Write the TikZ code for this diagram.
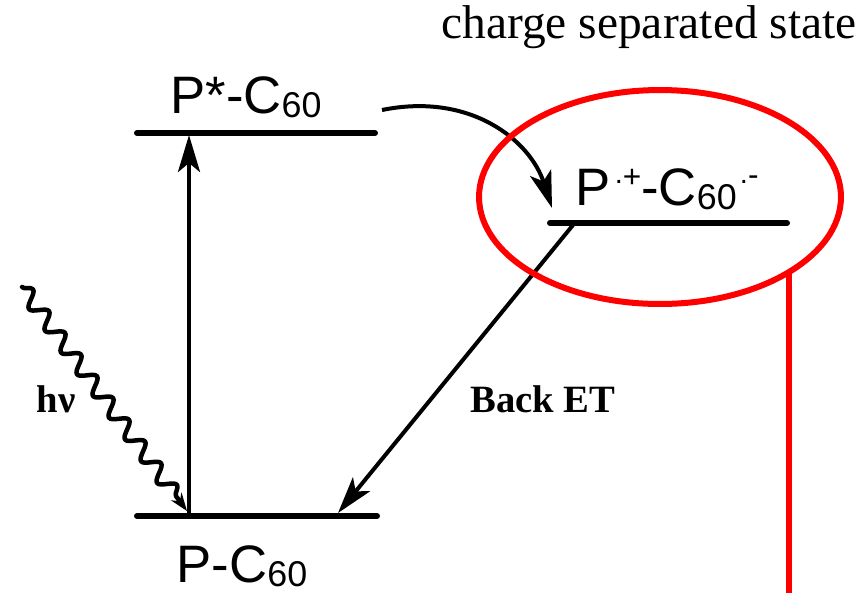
\documentclass[tikz,border=0pt]{standalone}
\usepackage{fontspec}
\setmainfont{Liberation Serif}
\setsansfont{Liberation Sans}
\usepackage{tikz}
\usetikzlibrary{arrows.meta,positioning,calc,shapes.geometric,decorations.pathmorphing}
\definecolor{ringred}{HTML}{FF0000}
\definecolor{ink}{HTML}{000000}
\newcommand{\lowsub}[1]{\raisebox{-0.08em}{\scalebox{0.68}{#1}}}
\newcommand{\raddot}{\raisebox{0.4em}{\scalebox{0.55}{.}}}
\newcommand{\chsup}[2]{\raisebox{#1}{\scalebox{0.6}{#2}}}
\tikzset{
    every picture/.style={line cap=round,line join=round},
    levelbar/.style={draw=ink,line width=0.12cm},
    levellabel/.style={anchor=base,inner sep=0pt,text=ink,
      font=\sffamily\fontsize{30}{30}\selectfont},
    steplabel/.style={anchor=base,inner sep=0pt,text=ink,
      font=\bfseries\fontsize{22}{22}\selectfont},
    transarrow/.style={-{Stealth[length=0.74cm,width=0.44cm,inset=0.18cm]},draw=ink,
      line width=0.08cm,line cap=butt},
    photon/.style={-{Stealth[length=0.36cm,width=0.26cm]},draw=ink,line width=0.09cm,
      decorate,decoration={snake,amplitude=0.15cm,segment length=0.54cm,
      post length=0.36cm}},
    ring/.style={ellipse,draw=ringred,line width=0.12cm,inner sep=0pt,outer sep=0pt,
      minimum width=7.24cm,minimum height=4.28cm},
    ringtail/.style={draw=ringred,line width=0.12cm,line cap=butt}
}
\begin{document}
\begin{tikzpicture}[x=0.02cm,y=-0.02cm]
  \useasboundingbox (0,0) rectangle (865,593);
  \coordinate (ex-w) at (137,133);
  \coordinate (ex-e) at (375,133);
  \coordinate (gs-w) at (137,516);
  \coordinate (gs-e) at (377,516);
  \coordinate (cs-w) at (550,223);
  \coordinate (cs-e) at (787,223);
  \draw[levelbar] (ex-w) -- (ex-e);
  \draw[levelbar] (gs-w) -- (gs-e);
  \draw[levelbar] (cs-w) -- (cs-e);
  \node[levellabel] (ex) at (246,113) {P*-C\lowsub{60}};
  \node[levellabel] (gs) at (242,582) {P-C\lowsub{60}};
  \node[levellabel] (cs) at (667,205)
    {P\kern0.08em\raddot\chsup{0.34em}{+}-C\lowsub{60}\kern0.06em\raddot\chsup{0.37em}{-}};
  \node[anchor=base,inner sep=0pt,font=\fontsize{27}{27}\selectfont] (title) at (649,38)
    {charge separated state};
  \coordinate (pump-foot) at (189,514);
  \coordinate (pump-head) at (189,135);
  \coordinate (hv-start) at (22,287);
  \coordinate (hv-end) at (187,511);
  \coordinate (fwd-from) at (382,110);
  \coordinate (fwd-to) at (552,208);
  \coordinate (back-from) at (573,225);
  \coordinate (back-to) at (338,513);
  \draw[transarrow] (pump-foot) -- (pump-head);
  \draw[photon] (hv-start) -- (hv-end);
  \draw[transarrow] (fwd-from) .. controls (470,92) and (530,140) .. (fwd-to);
  \draw[transarrow] (back-from) -- (back-to);
  \node[steplabel] (hv) at (56,412) {hν};
  \node[steplabel] (backet) at (543,412) {Back ET};
  \node[ring] (csring) at (660,197) {};
  \coordinate (ring-tail) at (789,593);
  \draw[ringtail] (csring.-30) -- (csring.-30 |- ring-tail);
\end{tikzpicture}
\end{document}
